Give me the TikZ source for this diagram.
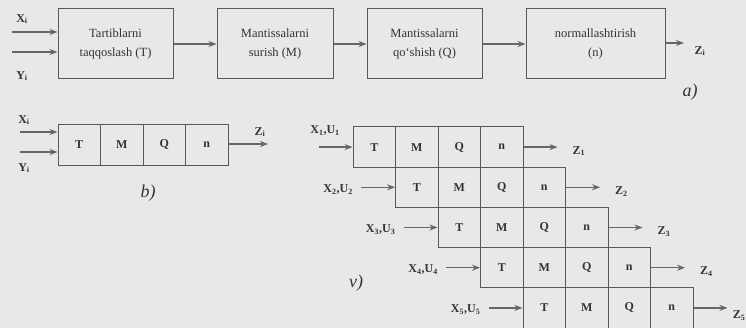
\documentclass[tikz,border=0pt]{standalone}
\usepackage{fontspec}
\setmainfont{Liberation Serif}
\usetikzlibrary{arrows.meta,positioning}

\begin{document}
\begin{tikzpicture}[x=1pt,y=-1pt,
                    every node/.style={text=black!80},
                    blok/.style={draw=black!65,line width=1pt,minimum height=70pt,
                                 align=center,font=\fontsize{12.5}{19}\selectfont},
                    kat/.style={draw=black!65,line width=1pt,minimum width=42.5pt,
                                minimum height=40.2pt,inner sep=0pt,
                                font=\bfseries\fontsize{12}{14}\selectfont},
                    strel/.style={-{Stealth[length=8pt,width=6pt]},draw=black!60,line width=1.2pt},
                    belgi/.style={font=\bfseries\fontsize{12}{14}\selectfont,inner sep=0pt},
                    harf/.style={font=\itshape\fontsize{18}{20}\selectfont}]
  \fill[black!9] (0,0) rectangle (746,328);
  \useasboundingbox (0,0) rectangle (746,328);
  % a)
  \node[blok,minimum width=115pt] (A1) at (115.5,44) {Tartiblarni\\taqqoslash (T)};
  \node[blok,minimum width=116pt] (A2) at (275,44) {Mantissalarni\\surish (M)};
  \node[blok,minimum width=115pt] (A3) at (424.5,44) {Mantissalarni\\qo`shish (Q)};
  \node[blok,minimum width=139pt] (A4) at (595.5,44) {normallashtirish\\(n)};
  \foreach \p/\q in {A1/A2,A2/A3,A3/A4}
    \draw[strel] (\p) -- (\q);
  \coordinate (ax) at (12,32);
  \coordinate (ay) at (12,52);
  \coordinate (az) at (684,43);
  \draw[strel] (ax) -- (ax -| A1.west);
  \draw[strel] (ay) -- (ay -| A1.west);
  \draw[strel] (A4.east |- az) -- (az);
  \node[belgi] (axl) at (22,19) {X\textsubscript{i}};
  \node[belgi] (ayl) at (22,76) {Y\textsubscript{i}};
  \node[belgi] (azl) at (700,51) {Z\textsubscript{i}};
  \node[harf] (la) at (690,92) {a)};
  % b)
  \foreach \c/\lb in {1/T,2/M,3/Q,4/n}
    \node[kat] (b\c) at (58+\c*42.5-21.25,145) {\lb};
  \coordinate (bx) at (20,132);
  \coordinate (by) at (20,152);
  \coordinate (bz) at (268,144);
  \draw[strel] (bx) -- (bx -| b1.west);
  \draw[strel] (by) -- (by -| b1.west);
  \draw[strel] (b4.east |- bz) -- (bz);
  \node[belgi] (bxl) at (24,120) {X\textsubscript{i}};
  \node[belgi] (byl) at (24,168) {Y\textsubscript{i}};
  \node[belgi] (bzl) at (260,132) {Z\textsubscript{i}};
  \node[harf] (lb) at (148,193) {b)};
  % v)
  \foreach \r in {1,...,5} {
    \foreach \c/\lb in {1/T,2/M,3/Q,4/n}
      \node[kat] (v\r\c) at (353+\r*42.5+\c*42.5-63.75,127+\r*40.2-20.1) {\lb};
    \coordinate (vi\r) at ([xshift=-34pt]v\r1.west);
    \coordinate (vz\r) at ([xshift=34pt]v\r4.east);
    \draw[strel] (vi\r) -- (v\r1);
    \draw[strel] (v\r4) -- (vz\r);
  }
  \foreach \r in {1,...,4}
    \node[belgi,right=15pt of vz\r,yshift=-4pt] (vzl\r) {Z\textsubscript{\r}};
  \node[belgi,anchor=east] (vzl5) at (745.5,316) {Z\textsubscript{5}};
  \foreach \r in {2,...,5}
    \node[belgi,left=8pt of vi\r,yshift=-2pt] (vil\r) {X\textsubscript{\r},U\textsubscript{\r}};
  \node[belgi] (vil1) at (325,131) {X\textsubscript{1},U\textsubscript{1}};
  \node[harf] (lv) at (356,283) {v)};
\end{tikzpicture}
\end{document}
